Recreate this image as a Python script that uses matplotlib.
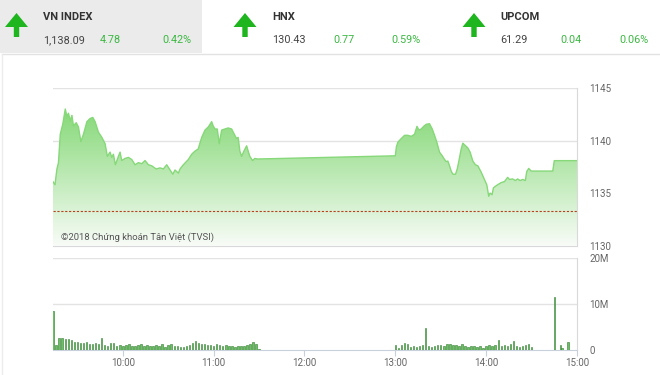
import numpy as np
import matplotlib
matplotlib.use('Agg')
import matplotlib.pyplot as plt
from matplotlib.colors import LinearSegmentedColormap
from matplotlib.patches import Polygon, Rectangle

plt.rcParams['font.family'] = ['Roboto', 'DejaVu Sans']

# Index line: minutes after 09:00 and VN-Index value
t_idx = [13.8, 15.2, 16.5, 17.5, 18.7, 20.4, 22.0, 23.1, 24.1, 25.3, 26.4, 27.4, 29.2, 30.7,
         32.3, 34.0, 36.3, 38.4, 40.2, 41.7, 43.9, 46.2, 48.3, 49.8, 51.6, 52.7, 53.8, 55.1,
         57.1, 58.2, 59.3, 61.5, 63.7, 65.9, 68.1, 70.3, 72.5, 74.7, 76.9, 79.1, 82.0, 84.6,
         86.8, 89.0, 91.2, 93.0, 94.5, 96.7, 97.8, 100.0, 103.3, 105.5, 107.7, 109.8, 112.1,
         114.3, 116.5, 118.7, 119.7, 120.9, 122.4, 123.7, 125.3, 127.4, 129.6, 131.9, 134.0,
         135.1, 136.2, 137.3, 138.5, 140.0, 141.8, 142.8, 143.9, 145.7, 147.2, 148.7, 150.0,
         240.0, 240.7, 241.7, 244.0, 246.1, 248.3, 250.5, 252.7, 254.3, 255.6, 257.1, 258.7,
         260.4, 262.6, 264.4, 265.9, 267.4, 269.2, 271.0, 272.5, 273.6, 274.7, 275.8, 276.9,
         278.0, 279.8, 280.9, 281.9, 283.5, 284.6, 286.4, 287.9, 289.4, 291.2, 292.9, 294.5,
         296.7, 298.9, 300.4, 301.7, 302.6, 303.9, 304.8, 306.1, 307.6, 309.9, 312.1, 314.2,
         315.4, 317.5, 319.3, 320.8, 322.4, 324.1, 325.9, 326.8, 328.1, 329.7, 344.0, 345.0,
         360.0]
v_idx = [1136.1, 1135.8, 1137.3, 1137.9, 1140.6, 1141.6, 1143.0, 1142.3, 1142.6, 1141.9,
         1142.4, 1141.4, 1141.7, 1141.3, 1139.9, 1140.6, 1141.8, 1142.1, 1142.2, 1141.8,
         1140.8, 1140.3, 1139.7, 1138.5, 1138.9, 1138.4, 1138.7, 1137.7, 1138.5, 1138.9,
         1138.1, 1138.3, 1138.4, 1138.2, 1137.7, 1137.9, 1137.8, 1138.1, 1137.7, 1137.6,
         1137.3, 1137.4, 1137.3, 1137.7, 1137.2, 1136.8, 1137.2, 1136.9, 1137.3, 1137.7,
         1138.2, 1138.7, 1139.0, 1139.2, 1140.3, 1141.0, 1141.3, 1141.8, 1141.4, 1141.1,
         1141.1, 1139.7, 1141.0, 1141.1, 1141.2, 1141.1, 1140.5, 1140.2, 1140.3, 1139.0,
         1138.5, 1139.0, 1139.5, 1139.0, 1138.5, 1138.1, 1138.3, 1138.25, 1138.25,
         1138.55, 1139.4, 1139.85, 1140.2, 1140.5, 1140.5, 1140.4, 1140.6, 1141.35, 1141.0,
         1141.1, 1141.35, 1141.55, 1141.6, 1141.1, 1140.5, 1139.85, 1138.9, 1138.55, 1138.2,
         1138.0, 1138.05, 1137.6, 1137.1, 1136.8, 1136.8, 1137.3, 1138.0, 1139.2, 1139.75,
         1139.5, 1139.3, 1138.9, 1138.05, 1137.7, 1137.6, 1137.0, 1136.3, 1135.8, 1134.7,
         1135.0, 1134.85, 1135.5, 1135.65, 1135.8, 1136.0, 1136.1, 1136.5, 1136.3, 1136.35,
         1136.2, 1136.35, 1136.2, 1136.3, 1136.2, 1137.05, 1137.35, 1137.1, 1137.1,
         1138.09, 1138.09]
ref_close = 1133.31

# Volume (millions), minutes after 09:00
t_vol_am = list(range(14, 151, 2))
vol_am = [8.5, 1.0, 2.6, 2.6, 2.5, 2.4, 2.1, 1.7, 1.8, 1.6, 1.5, 1.7, 1.4, 1.3, 1.5, 1.2,
          2.7, 1.0, 0.9, 1.6, 1.5, 0.8, 1.1, 0.9, 1.0, 1.3, 0.8, 0.9, 1.0, 1.2, 0.9, 1.0,
          0.8, 0.9, 1.1, 0.8, 1.2, 0.7, 1.0, 1.3, 0.8, 0.9, 0.7, 0.6, 0.8, 1.1, 1.5, 1.9,
          1.6, 1.2, 1.4, 1.0, 1.1, 0.9, 1.2, 1.0, 0.8, 1.1, 0.9, 0.8, 0.7, 0.8, 0.9, 0.8,
          1.0, 1.3, 1.8, 1.2, 0.3]
t_vol_pm = list(range(240, 331, 2)) + [345, 349, 350, 354]
vol_pm = [1.1, 0.4, 1.0, 1.6, 1.2, 0.6, 0.9, 0.7, 0.8, 1.0, 4.8, 0.9, 0.7, 0.8, 1.0, 1.1,
          0.9, 1.2, 1.3, 1.0, 1.1, 0.8, 1.2, 0.9, 0.7, 0.8, 0.9, 0.6, 0.8, 0.5, 0.9, 1.0,
          0.8, 1.1, 2.1, 0.9, 1.0, 0.8, 1.2, 2.0, 0.9, 0.7, 0.8, 1.0, 1.3, 0.6,
          11.5, 1.1, 0.4, 1.8]

hour_ticks = [60, 120, 180, 240, 300, 360]
hour_labels = ['10:00', '11:00', '12:00', '13:00', '14:00', '15:00']

# Header data
idx_names = ['VN INDEX', 'HNX', 'UPCOM']
idx_values = ['1,138.09', '130.43', '61.29']
idx_changes = ['4.78', '0.77', '0.04']
idx_pcts = ['0.42%', '0.59%', '0.06%']

W, H = 660, 375
fig = plt.figure(figsize=(6.6, 3.75), dpi=100)
fig.patch.set_facecolor('white')

grid_c = '#e3e3e3'
txt_c = '#666666'
xmin, xmax = 13.7, 360

# ---- price panel
ax = fig.add_axes([52.7 / W, 1 - 245.7 / H, 524.3 / W, 157.7 / H])
ax.set_xlim(xmin, xmax)
ax.set_ylim(1130, 1145)
grad_cmap = LinearSegmentedColormap.from_list('g', ['#f8fcf7', '#74d364'])
grad = np.linspace(0, 1, 256).reshape(-1, 1)
img = ax.imshow(grad, extent=[xmin, xmax, 1130, 1145], origin='lower', aspect='auto',
                cmap=grad_cmap, zorder=1)
poly = Polygon(list(zip(t_idx, v_idx)) + [(t_idx[-1], 1130), (t_idx[0], 1130)],
               closed=True, facecolor='none', edgecolor='none')
ax.add_patch(poly)
img.set_clip_path(poly)
ax.plot(t_idx, v_idx, color='#86d879', lw=1.0, zorder=3)
ax.axhline(ref_close, color='#b8401c', lw=0.8, ls=(0, (2, 1.5)), zorder=4)
for yv in [1135, 1140, 1145]:
    ax.axhline(yv, color=grid_c, lw=1, zorder=0.5)
ax.yaxis.tick_right()
ax.set_yticks([1130, 1135, 1140, 1145])
ax.tick_params(axis='y', length=0, pad=9, labelsize=7, labelcolor=txt_c)
ax.set_xticks([])
for s in ['left', 'top']:
    ax.spines[s].set_visible(False)
for s in ['right', 'bottom']:
    ax.spines[s].set_color('#d9d9d9')
ax.text(19, 1130.55, '©2018 Chứng khoán Tân Việt (TVSI)', fontsize=6.8,
        color='#555555', zorder=5)

# ---- volume panel
axv = fig.add_axes([52.7 / W, 1 - 350 / H, 524.3 / W, 91.7 / H])
axv.set_xlim(xmin, xmax)
axv.set_ylim(0, 20)
axv.bar(t_vol_am, vol_am, width=1.0, color='#6cbf62', edgecolor='#2f7d2f', lw=0.4, zorder=3)
axv.bar(t_vol_pm, vol_pm, width=1.0, color='#6cbf62', edgecolor='#2f7d2f', lw=0.4, zorder=3)
for yv in [10, 20]:
    axv.axhline(yv, color=grid_c, lw=1, zorder=0.5)
axv.yaxis.tick_right()
axv.set_yticks([0, 10, 20])
axv.set_yticklabels(['0', '10M', '20M'])
axv.tick_params(axis='y', length=0, pad=9, labelsize=7, labelcolor=txt_c)
axv.set_xticks(hour_ticks)
axv.set_xticklabels(hour_labels)
axv.tick_params(axis='x', length=4, color='#c8d0dc', labelsize=7, labelcolor=txt_c, pad=2)
axv.spines['left'].set_visible(False)
axv.spines['top'].set_visible(False)
axv.spines['right'].set_color('#d9d9d9')
axv.spines['bottom'].set_color('#c8d0dc')

# ---- header
hd = fig.add_axes([0, 0, 1, 1], zorder=-1)
hd.set_xlim(0, W)
hd.set_ylim(H, 0)
hd.axis('off')
hd.add_patch(Rectangle((0, 0), 202, 53, facecolor='#ebebeb', edgecolor='none'))
hd.plot([2, W], [53.5, 53.5], color='#e2e2e2', lw=1)
hd.plot([2, 2], [53.5, H], color='#ececec', lw=1)
green = '#1eb51e'
for cx in [16.5, 245, 474]:
    arrow = [(cx, 13), (cx + 11.5, 27), (cx + 2.7, 27), (cx + 2.7, 37),
             (cx - 2.7, 37), (cx - 2.7, 27), (cx - 11.5, 27)]
    hd.add_patch(Polygon(arrow, closed=True, facecolor=green, edgecolor='none'))
hdr_x = [(43, 100, 162), (272, 333, 391), (500, 560, 619)]
for i, (x1, x2, x3) in enumerate(hdr_x):
    hd.text(x1, 17, idx_names[i], fontsize=8, fontweight='bold', color='#333333',
            va='center', ha='left')
    hd.text(x1, 40, idx_values[i], fontsize=7.8, color='#444444', va='center', ha='left')
    hd.text(x2, 40, idx_changes[i], fontsize=7.8, color='#3cb843', va='center', ha='left')
    hd.text(x3, 40, idx_pcts[i], fontsize=7.8, color='#3cb843', va='center', ha='left')

fig.savefig('out.png', dpi=100)
